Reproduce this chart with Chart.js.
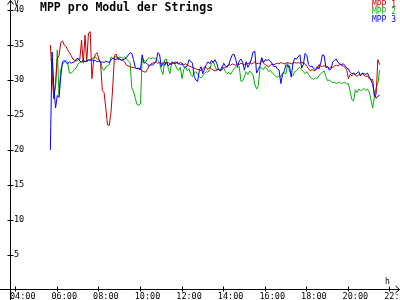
<!DOCTYPE html>
<html><head><meta charset="utf-8">
<script src="https://cdn.jsdelivr.net/npm/chart.js@4"></script>
<style>html,body{margin:0;padding:0;background:#fff}canvas{display:block}</style>
</head><body>
<canvas id="c" width="400" height="300"></canvas>
<script>
const chartTitle = 'MPP pro Modul der Strings';
const seriesNames = ['MPP 1', 'MPP 2', 'MPP 3'];
const seriesColors = ['#c00000', '#00b000', '#0000ff'];
const startHour = 5 + 40 / 60;   // first sample 05:40
const stepMinutes = 5;           // sampling interval
const xTickHours = [4, 6, 8, 10, 12, 14, 16, 18, 20, 22];
const xTickLabels = ['04:00', '06:00', '08:00', '10:00', '12:00', '14:00', '16:00', '18:00', '20:00', '22:00'];
const yTicks = [5, 10, 15, 20, 25, 30, 35, 40];

const mpp1 = [
35.0,31.0,27.3,29.5,33.0,33.5,35.3,35.6,35.0,34.8,
34.3,33.9,33.5,33.0,32.8,32.7,32.9,33.0,35.7,32.4,
36.4,32.6,36.7,36.9,30.2,32.9,33.7,33.9,33.0,32.4,
28.5,28.2,26.0,23.6,23.5,25.4,29.0,33.5,33.7,32.9,
33.0,32.9,32.8,32.5,32.1,32.0,31.9,31.8,31.8,31.7,
31.6,31.6,31.5,31.3,31.2,31.1,31.5,32.0,32.3,32.4,
32.5,32.6,32.4,32.5,32.3,32.5,32.6,32.4,32.5,32.3,
32.5,32.4,32.6,32.4,32.3,32.5,32.4,32.2,32.3,32.1,
32.0,31.9,31.8,31.7,31.6,31.5,31.5,31.3,31.6,31.9,
31.7,31.5,31.8,31.6,31.4,31.3,31.4,31.6,31.3,31.9,
31.7,31.8,32.0,32.2,32.1,32.3,32.2,32.1,32.3,32.2,
32.4,32.3,32.2,32.4,32.3,32.5,32.3,32.4,32.6,32.3,
32.4,32.3,33.0,32.4,32.2,32.0,31.9,32.1,32.3,32.2,
32.3,32.4,32.3,32.5,32.4,32.3,32.4,32.5,32.4,32.3,
32.4,32.5,32.4,32.5,32.4,32.5,32.4,32.3,32.0,31.6,
31.3,31.5,31.3,31.4,31.6,32.2,32.0,31.9,32.1,31.8,
31.9,31.7,31.9,31.8,32.0,32.1,32.0,32.2,32.1,32.0,
31.8,31.5,30.2,30.8,30.6,30.9,30.7,30.5,30.8,30.6,
30.9,30.7,30.5,30.6,30.2,30.0,30.1,27.6,28.0,32.9,32.2
];
const mpp2 = [
32.9,33.0,28.0,29.0,34.3,27.8,31.5,32.2,32.6,32.8,
32.5,31.0,31.0,31.2,31.5,31.8,32.3,32.5,32.6,32.8,
32.7,32.6,32.8,32.9,33.1,33.2,33.3,33.0,32.9,32.7,
31.6,31.4,31.9,32.0,32.2,33.3,33.1,33.2,33.4,33.0,
33.3,33.2,33.1,33.3,33.0,32.7,32.5,28.9,28.3,27.4,
26.5,26.4,26.6,33.1,32.8,32.6,33.0,33.2,33.0,33.2,
33.1,33.0,32.8,32.5,31.4,30.8,32.9,33.0,31.7,30.9,
32.6,32.5,32.2,31.6,31.4,31.8,30.2,31.5,31.9,31.3,
31.6,30.8,30.5,31.0,31.2,30.8,30.5,30.3,30.6,30.9,
31.2,31.1,31.5,32.4,32.6,32.0,31.4,31.5,31.3,31.4,
31.7,31.2,30.9,31.1,30.8,31.2,31.6,31.9,31.8,31.9,
29.8,29.9,30.4,31.2,30.8,31.3,31.0,30.7,29.4,28.7,
29.2,31.8,31.7,31.5,31.9,31.6,31.2,31.4,31.0,30.8,
30.5,30.4,30.6,30.5,31.0,31.0,30.9,32.4,31.3,30.8,
30.6,31.2,31.3,31.6,31.8,31.5,31.2,30.9,31.2,30.8,
30.4,30.2,30.1,30.3,30.2,30.6,30.9,31.1,31.3,30.5,
29.9,30.0,29.8,29.6,29.7,29.5,29.6,29.7,29.5,29.6,
29.7,29.4,29.5,28.4,27.2,27.0,28.6,28.2,28.7,28.5,
28.6,28.8,28.5,28.7,28.3,27.2,26.0,27.5,28.9,29.5,31.4
];
const mpp3 = [
20.0,34.0,29.0,26.0,27.8,27.5,30.5,32.6,32.8,32.5,
32.3,32.6,32.4,32.5,32.6,33.0,33.1,32.7,32.6,32.8,
32.6,32.7,32.9,32.8,32.9,32.7,32.8,32.6,32.7,32.5,
32.6,32.5,32.7,32.6,32.5,32.9,33.1,33.0,32.9,33.2,
33.0,32.8,32.9,33.0,33.2,33.6,33.9,33.8,32.9,31.8,
31.6,31.7,31.5,33.6,32.4,32.5,32.3,32.0,32.2,32.1,
32.4,32.6,33.9,33.7,31.9,32.4,32.1,32.6,32.0,32.3,
32.2,32.5,32.3,32.6,32.4,32.2,32.3,31.9,31.8,32.0,
32.9,32.7,32.4,30.5,30.0,29.8,31.4,31.9,30.9,31.6,
32.2,32.6,32.3,32.8,32.5,32.9,32.4,31.5,31.4,31.6,
32.4,32.0,31.8,32.2,33.0,33.6,33.7,32.9,31.9,32.7,
33.0,32.5,31.4,32.6,31.8,32.3,33.0,34.0,34.1,31.0,
31.5,32.0,33.2,32.5,32.9,32.8,32.9,32.7,32.3,31.9,
32.0,31.6,31.4,29.5,30.8,31.3,32.2,31.9,32.0,30.4,
32.4,33.1,33.0,33.3,33.6,31.7,32.2,33.8,33.5,32.2,
31.9,32.0,31.6,31.5,31.9,31.6,32.4,33.6,33.5,31.8,
31.9,31.4,31.6,32.6,32.8,33.0,32.5,32.3,32.2,32.3,
32.1,31.7,31.6,31.1,30.9,31.0,30.8,31.0,31.2,30.6,
31.0,30.9,30.8,31.0,30.5,30.0,29.4,28.0,27.4,27.7,27.8
];

const times = mpp1.map((_, i) => startHour + i * stepMinutes / 60);
const seriesValues = [mpp1, mpp2, mpp3];
const drawOrder = [1, 2, 0];
const MONO = '"DejaVu Sans Mono", "Liberation Mono", monospace';

const decor = {
  id: 'decor',
  afterDraw(chart) {
    const ctx = chart.ctx;
    const x = chart.scales.x, y = chart.scales.y;
    const ax = Math.round(x.left) - 0.5;
    const ay = Math.round(y.getPixelForValue(0)) - 0.5;
    ctx.save();
    ctx.strokeStyle = '#000';
    ctx.lineWidth = 1;
    ctx.beginPath();
    ctx.moveTo(ax, 0); ctx.lineTo(ax, 300);
    ctx.moveTo(0, ay); ctx.lineTo(399.5, ay);
    ctx.moveTo(ax - 3, 4.5); ctx.lineTo(ax, 0.5); ctx.lineTo(ax + 3, 4.5);
    ctx.moveTo(395.5, ay - 3.5); ctx.lineTo(399.5, ay); ctx.lineTo(395.5, ay + 3.5);
    yTicks.forEach(v => {
      const py = Math.round(y.getPixelForValue(v)) + 0.5;
      ctx.moveTo(ax - 3, py); ctx.lineTo(ax + 3, py);
    });
    xTickHours.forEach(h => {
      const px = Math.floor(x.getPixelForValue(h)) + 0.5;
      ctx.moveTo(px, ay - 3); ctx.lineTo(px, ay + 2);
    });
    ctx.stroke();

    ctx.fillStyle = '#000';
    ctx.textBaseline = 'alphabetic';
    ctx.textAlign = 'left';
    ctx.font = 'bold 11.5px ' + MONO;
    ctx.fillText(chartTitle, 40, 11);
    ctx.font = '8px ' + MONO;
    ctx.fillText('V', 14, 6);
    ctx.fillText('h', 385, 284);

    ctx.font = '8px ' + MONO;
    ctx.textAlign = 'right';
    chart.data.datasets.forEach((ds, i) => {
      ctx.fillStyle = ds.borderColor;
      ctx.fillText(ds.label, 396, 7 + i * 7.4);
    });
    ctx.restore();
  }
};

new Chart(document.getElementById('c'), {
  type: 'line',
  data: {
    datasets: seriesNames.map((name, i) => ({
      label: name,
      data: times.map((t, k) => ({ x: t, y: seriesValues[i][k] })),
      borderColor: seriesColors[i],
      backgroundColor: seriesColors[i],
      borderWidth: 1,
      pointRadius: 0,
      tension: 0,
      fill: false,
      order: drawOrder[i]
    }))
  },
  options: {
    responsive: false,
    animation: false,
    devicePixelRatio: 1,
    layout: { padding: { top: 10, right: 1, left: 0, bottom: 0 } },
    plugins: { legend: { display: false }, tooltip: { enabled: false }, title: { display: false } },
    scales: {
      x: {
        type: 'linear', min: 3.774, max: 22.433,
        grid: { display: false, drawTicks: false },
        border: { display: false },
        afterBuildTicks: s => { s.ticks = xTickHours.map(v => ({ value: v })); },
        afterFit: s => { s.height = 10; s.paddingLeft = 0; s.paddingRight = 0; },
        ticks: {
          autoSkip: false, maxRotation: 0, minRotation: 0, padding: 2, labelOffset: 7,
          color: '#000', font: { family: MONO, size: 8.5 },
          callback: (v, i) => xTickLabels[i]
        }
      },
      y: {
        min: 0, max: 40,
        grid: { display: false, drawTicks: false },
        border: { display: false },
        afterBuildTicks: s => { s.ticks = yTicks.map(v => ({ value: v })); },
        afterFit: s => { s.width = 11; s.paddingTop = 0; s.paddingBottom = 0; },
        ticks: { mirror: true, padding: 3, color: '#000', font: { family: MONO, size: 8.5 } }
      }
    }
  },
  plugins: [decor]
});
</script>
</body></html>
